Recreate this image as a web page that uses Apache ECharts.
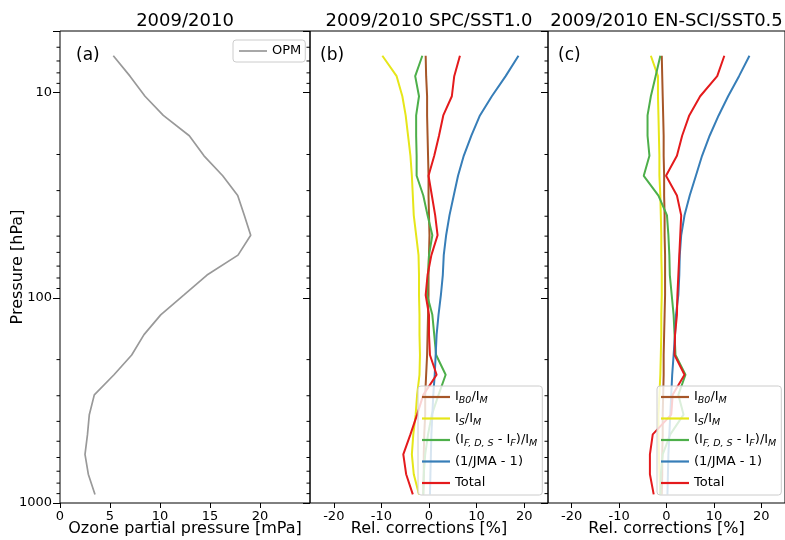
<!DOCTYPE html>
<html>
<head>
<meta charset="utf-8">
<script src="https://cdn.jsdelivr.net/npm/echarts/dist/echarts.min.js"></script>
<style>html,body{margin:0;padding:0;background:#fff}#c{width:785px;height:540px}</style>
</head>
<body>
<div id="c"></div>
<script>
// ---- data ----
const pressure = [6.6, 8.3, 10.4, 12.9, 16.2, 20.3, 25.4, 31.7, 39.6, 49.5, 61.9, 77.4, 96.8, 121, 151, 190, 237, 297, 371, 463, 579, 724, 908];
const opm = [5.33, 7.0, 8.5, 10.33, 12.93, 14.4, 16.27, 17.77, 18.43, 19.07, 17.8, 14.7, 12.4, 10.07, 8.4, 7.17, 5.4, 3.43, 2.93, 2.75, 2.5, 2.83, 3.5];

const ib0SPC   = [-0.7, -0.6, -0.4, -0.4, -0.3, -0.2, -0.1, -0.1, 0.0, 0.1, 0.0, -0.1, -0.1, -0.2, -0.3, -0.4, -0.6, -0.8, -0.8, -1.0, -1.1, -1.1, -1.2];
const isSPC    = [-9.8, -6.8, -5.6, -4.9, -4.4, -3.9, -3.6, -3.4, -3.2, -2.7, -2.2, -2.1, -2.1, -2.0, -2.0, -1.9, -2.0, -2.5, -2.8, -3.3, -3.6, -3.2, -2.1];
const ifdsSPC  = [-1.4, -2.9, -2.1, -2.7, -2.7, -2.6, -2.6, -1.2, -0.3, 0.7, 0.0, -0.2, -0.4, 0.7, 1.1, 1.5, 3.5, 2.0, 0.6, -0.2, -0.8, -1.1, -1.2];
const jmaSPC   = [18.8, 16.1, 13.2, 10.7, 8.9, 7.3, 6.1, 5.2, 4.3, 3.6, 3.1, 2.9, 2.5, 2.0, 1.6, 1.4, 1.2, 0.9, 0.7, 0.5, 0.4, 0.3, 0.2];
const totalSPC = [6.5, 5.3, 4.8, 3.0, 2.1, 1.1, -0.1, 0.6, 1.3, 1.8, 0.5, -0.3, -0.7, 0.0, 0.0, 0.2, 1.6, -1.2, -2.5, -3.9, -5.4, -4.8, -3.4];

const ib0SCI   = [-1.0, -0.9, -0.8, -0.7, -0.6, -0.6, -0.5, -0.5, -0.4, -0.4, -0.3, -0.3, -0.3, -0.4, -0.5, -0.6, -0.6, -0.7, -0.8, -0.8, -0.9, -0.9, -1.0];
const isSCI    = [-3.3, -1.8, -1.8, -1.7, -1.6, -1.5, -1.5, -1.3, -1.2, -1.1, -1.1, -1.0, -1.0, -1.1, -1.1, -1.2, -1.3, -1.5, -1.7, -1.7, -1.6, -1.5, -1.3];
const ifdsSCI  = [-1.3, -2.3, -3.3, -4.0, -4.0, -3.6, -4.8, -1.7, 0.1, 0.4, 0.6, 0.7, 1.1, 1.5, 1.7, 1.9, 4.0, 2.5, 3.6, 0.8, -0.8, -1.2, -1.3];
const jmaSCI   = [17.5, 15.3, 13.0, 11.0, 9.1, 7.5, 6.2, 4.9, 3.8, 3.1, 2.8, 2.7, 2.5, 2.0, 1.8, 1.5, 1.2, 1.0, 0.8, 0.6, 0.4, 0.3, 0.2];
const totalSCI = [12.2, 10.7, 7.1, 4.8, 3.3, 2.2, -0.1, 2.2, 3.1, 2.9, 2.7, 2.5, 2.3, 2.2, 1.8, 1.7, 3.8, 1.3, 1.0, -2.9, -3.5, -3.5, -2.7];

const titles = ['2009/2010', '2009/2010 SPC/SST1.0', '2009/2010 EN-SCI/SST0.5'];
const panelLabels = ['(a)', '(b)', '(c)'];
const seriesNames = ['IB0/IM', 'IS/IM', '(IF,D,S - IF)/IM', '(1/JMA - 1)', 'Total'];
const xTicksOzone = [0, 5, 10, 15, 20];
const xTicksRel = [-20, -10, 0, 10, 20];
const yTickLabels = [10, 100, 1000];
const yMinorTicks = [6, 7, 8, 9, 20, 30, 40, 50, 60, 70, 80, 90, 200, 300, 400, 500, 600, 700, 800, 900];

// ---- styling ----
const FONT = '"DejaVu Sans", sans-serif';
const colors = ['#a65628', '#e6e619', '#4daf4a', '#377eb8', '#e41a1c'];
const legendRichText = {
  'IB0/IM': '{m|I}{s|B0}{m|/I}{s|M}',
  'IS/IM': '{m|I}{s|S}{m|/I}{s|M}',
  '(IF,D,S - IF)/IM': '{m|(I}{s|F, D, S}{m| - I}{s|F}{m|)/I}{s|M}',
  '(1/JMA - 1)': '{m|(1/JMA - 1)}',
  'Total': '{m|Total}'
};
const rich = {
  m: {fontSize: 13, fontFamily: FONT, color: '#000', lineHeight: 18, verticalAlign: 'middle'},
  s: {fontSize: 9.5, fontFamily: FONT, fontStyle: 'italic', color: '#000', lineHeight: 10, verticalAlign: 'bottom'}
};

const gridDefs = [
  {left: 60, top: 31, width: 250, height: 472},
  {left: 310, top: 31, width: 238, height: 472},
  {left: 548, top: 31, width: 237, height: 472}
];
const xRanges = [[0, 25], [-25, 25], [-25, 25]];

function pairs(vals) { return vals.map((v, i) => [v, pressure[i]]); }

const grids = gridDefs.map(g => Object.assign({show: true, borderColor: '#000', borderWidth: 1,
  backgroundColor: 'transparent', containLabel: false, outerBoundsMode: 'none'}, g));

const xAxes = [0, 1, 2].map(i => {
  const ticks = i === 0 ? xTicksOzone : xTicksRel;
  return {
    type: 'value', gridIndex: i, min: xRanges[i][0], max: xRanges[i][1], position: 'bottom',
    axisLine: {show: false, onZero: false}, splitLine: {show: false},
    axisTick: {show: true, length: 5, customValues: ticks, lineStyle: {color: '#000', width: 1}},
    axisLabel: {customValues: ticks, fontSize: 13, fontFamily: FONT, color: '#000', margin: 7},
    name: i === 0 ? 'Ozone partial pressure [mPa]' : 'Rel. corrections [%]',
    nameLocation: 'middle', nameGap: 18, nameMoveOverlap: false,
    nameTextStyle: {fontSize: 16, fontFamily: FONT, color: '#000'}
  };
});

const yAxes = [0, 1, 2].map(i => ({
  type: 'log', logBase: 10, gridIndex: i, min: 5, max: 1000, inverse: true, position: 'left',
  axisLine: {show: false, onZero: false}, splitLine: {show: false},
  axisTick: {show: true, length: 7, lineStyle: {color: '#000', width: 1}},
  axisLabel: {
    show: i === 0, fontSize: 13, fontFamily: FONT, color: '#000', margin: 8,
    formatter: v => yTickLabels.indexOf(Math.round(v)) >= 0 ? String(Math.round(v)) : ''
  },
  name: i === 0 ? 'Pressure [hPa]' : '',
  nameLocation: 'middle', nameGap: 34, nameMoveOverlap: false,
  nameTextStyle: {fontSize: 16, fontFamily: FONT, color: '#000'}
}));

const series = [];
// minor ticks on each panel's left axis
[0, 1, 2].forEach(i => {
  series.push({
    type: 'custom', xAxisIndex: i, yAxisIndex: i, silent: true, clip: false, z: 1,
    data: yMinorTicks.map(p => [xRanges[i][0], p]),
    encode: {x: 0, y: 1},
    renderItem: (params, api) => {
      const pt = api.coord([api.value(0), api.value(1)]);
      return {type: 'line', shape: {x1: pt[0] - 3.5, y1: pt[1], x2: pt[0], y2: pt[1]},
              style: {stroke: '#000', lineWidth: 1}};
    }
  });
});

series.push({
  name: 'OPM', type: 'line', xAxisIndex: 0, yAxisIndex: 0, data: pairs(opm),
  showSymbol: false, symbol: 'none', lineStyle: {color: '#999999', width: 1.7}, itemStyle: {color: '#999999'}, z: 3
});
const spc = [ib0SPC, isSPC, ifdsSPC, jmaSPC, totalSPC];
const sci = [ib0SCI, isSCI, ifdsSCI, jmaSCI, totalSCI];
[spc, sci].forEach((set, k) => {
  set.forEach((vals, j) => {
    series.push({
      name: seriesNames[j], type: 'line', xAxisIndex: k + 1, yAxisIndex: k + 1, data: pairs(vals),
      showSymbol: false, symbol: 'none', lineStyle: {color: colors[j], width: 2}, itemStyle: {color: colors[j]}, z: 3
    });
  });
});

const legendCommon = {
  orient: 'vertical', icon: 'rect', itemWidth: 28, itemHeight: 2.2, itemGap: 3.5,
  backgroundColor: 'rgba(255,255,255,0.8)', borderColor: '#cccccc', borderWidth: 1, borderRadius: 3,
  padding: [2, 5, 3, 4], selectedMode: false,
  formatter: n => legendRichText[n],
  textStyle: {rich: rich, fontSize: 13, fontFamily: FONT, color: '#000', lineHeight: 18}
};

const option = {
  animation: false,
  grid: grids,
  xAxis: xAxes,
  yAxis: yAxes,
  legend: [
    {data: ['OPM'], left: 233, top: 40, orient: 'vertical', icon: 'rect', itemWidth: 28, itemHeight: 1.7,
     backgroundColor: 'rgba(255,255,255,0.8)', borderColor: '#cccccc', borderWidth: 1, borderRadius: 3,
     padding: [3, 4, 3, 6], selectedMode: false,
     textStyle: {fontSize: 13, fontFamily: FONT, color: '#000', lineHeight: 16}},
    Object.assign({data: seriesNames, left: 418, top: 386}, legendCommon),
    Object.assign({data: seriesNames, left: 657, top: 386}, legendCommon)
  ],
  graphic: [
    {type: 'text', x: 185, y: 21.5, style: {text: titles[0], fontSize: 18, fontFamily: FONT, fill: '#000', align: 'center', verticalAlign: 'middle', textAlign: 'center', textVerticalAlign: 'middle'}},
    {type: 'text', x: 429, y: 21.5, style: {text: titles[1], fontSize: 18, fontFamily: FONT, fill: '#000', align: 'center', verticalAlign: 'middle', textAlign: 'center', textVerticalAlign: 'middle'}},
    {type: 'text', x: 666.5, y: 21.5, style: {text: titles[2], fontSize: 18, fontFamily: FONT, fill: '#000', align: 'center', verticalAlign: 'middle', textAlign: 'center', textVerticalAlign: 'middle'}},
    {type: 'text', x: 76, y: 56, style: {text: panelLabels[0], fontSize: 17, fontFamily: FONT, fill: '#000', align: 'left', verticalAlign: 'middle', textAlign: 'left', textVerticalAlign: 'middle'}},
    {type: 'text', x: 320, y: 56, style: {text: panelLabels[1], fontSize: 17, fontFamily: FONT, fill: '#000', align: 'left', verticalAlign: 'middle', textAlign: 'left', textVerticalAlign: 'middle'}},
    {type: 'text', x: 558, y: 56, style: {text: panelLabels[2], fontSize: 17, fontFamily: FONT, fill: '#000', align: 'left', verticalAlign: 'middle', textAlign: 'left', textVerticalAlign: 'middle'}}
  ],
  series: series
};

const chart = echarts.init(document.getElementById('c'), null, {renderer: 'canvas'});
chart.setOption(option);
</script>
</body>
</html>
